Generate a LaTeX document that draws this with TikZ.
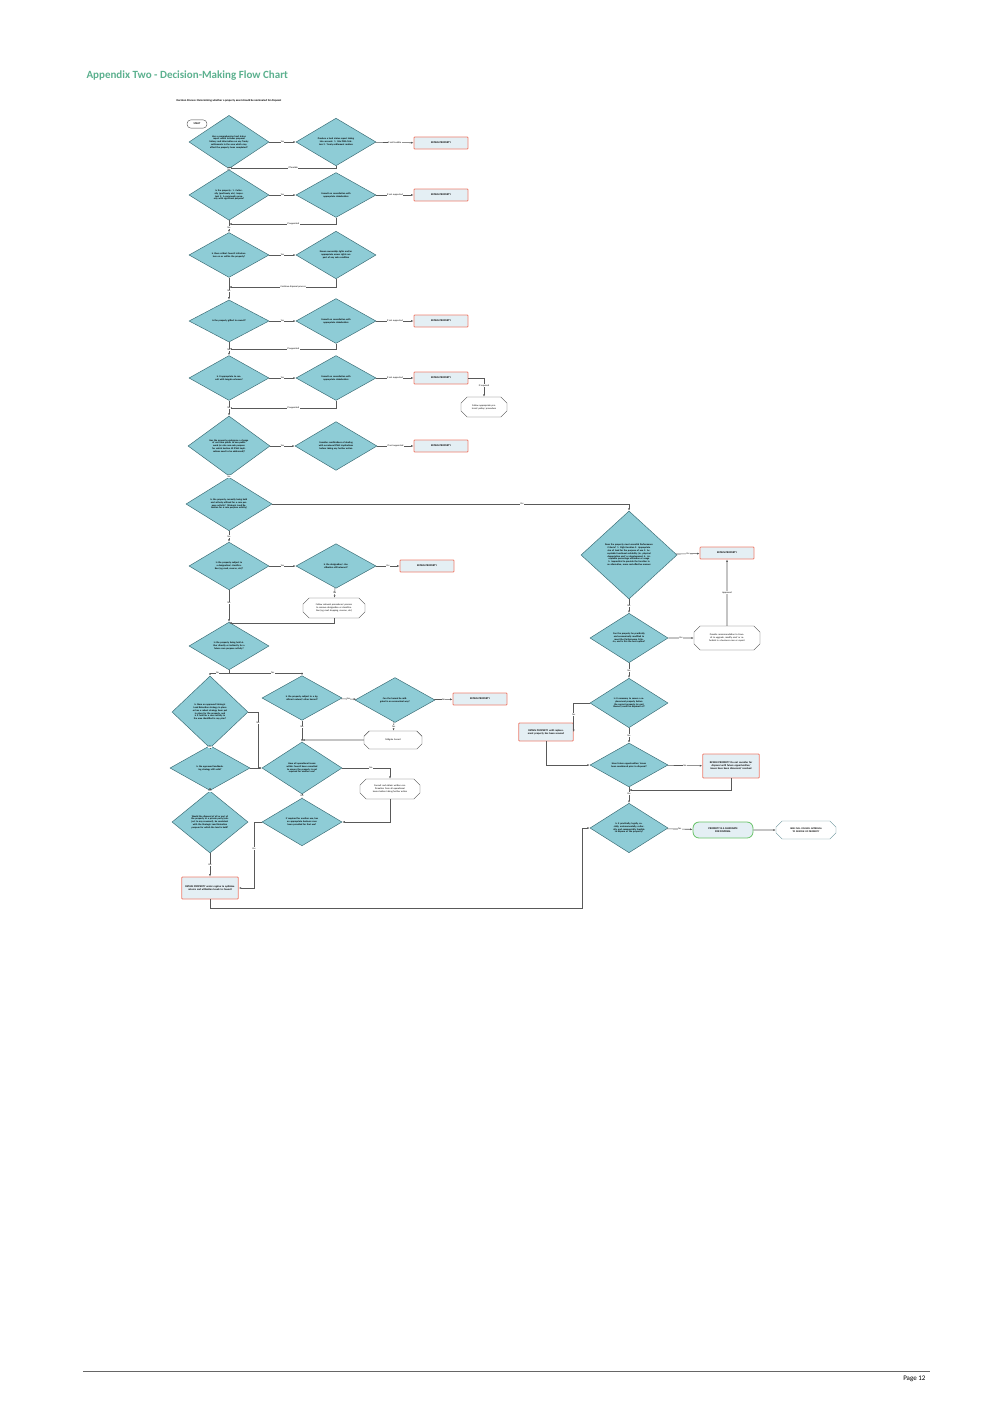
\documentclass[tikz,border=0pt]{standalone}
\usepackage{fontspec}
\setmainfont{Carlito}
\usetikzlibrary{shapes.geometric,shapes.misc,arrows.meta}
\definecolor{teal1}{HTML}{8ECCD6}
\definecolor{teal2}{HTML}{3E6F78}
\definecolor{redb}{HTML}{EE7F6E}
\definecolor{boxf}{HTML}{E4EFF4}
\definecolor{titleg}{HTML}{5BB08E}
\tikzset{
  dec/.style 2 args={diamond, draw=teal2, fill=teal1, line width=.5pt, inner sep=0pt,
    minimum width=#1pt, minimum height=#2pt, text width=.5*#1pt, align=center,
    font=\fontsize{2.4}{2.8}\selectfont\bfseries},
  retain/.style={rectangle, draw=redb, fill=boxf, line width=.8pt, rounded corners=.8pt,
    minimum width=54pt, minimum height=12pt, align=center, font=\fontsize{2.6}{3}\selectfont\bfseries},
  hexa/.style={chamfered rectangle, chamfered rectangle xsep=3pt, draw=black!70, fill=white,
    line width=.4pt, minimum width=60pt, minimum height=18pt, align=center, inner sep=1pt,
    font=\fontsize{2.4}{2.8}\selectfont},
  flow/.style={draw=black!65, line width=.6pt, -{Latex[length=2.5pt,width=2pt]}},
  lbl/.style={fill=white, inner sep=.4pt, font=\fontsize{2.4}{2.8}\selectfont},
}
\begin{document}
\begin{tikzpicture}[x=1pt,y=-1pt]
\useasboundingbox (0,0) rectangle (1004,1418);
% header and footer
\node[anchor=west, text=titleg, font=\fontsize{11}{13}\selectfont\bfseries] (title) at (83,76) {Appendix Two - Decision-Making Flow Chart};
\node[anchor=west, font=\fontsize{2.8}{3}\selectfont\bfseries] (sub) at (173,101) {Decision Process: Determining whether a property asset should be nominated for disposal};
\draw[black!60, line width=.5pt] (83,1371) -- (930,1371);
\node[anchor=east, font=\fontsize{7}{8}\selectfont] (page) at (929,1379) {Page 12};
% left column
\node[draw=black!70, rounded corners=4pt, fill=white, minimum width=20pt, minimum height=8pt, font=\fontsize{2.6}{3}\selectfont\bfseries] (start) at (197,124) {START};
\node[dec={80}{50}] (d1) at (229,142) {Has a comprehensive land status report which includes proposal history and information on any Treaty settlements in the area which may affect the property been completed?};
\node[dec={80}{44}] (d2) at (336,142) {Produce a land status report taking into account: 1. Site PMA Matters 2. Treaty settlement matters};
\node[retain] (r1) at (441,143) {RETAIN PROPERTY};
\node[dec={80}{44}] (d3) at (229,195) {Is the property: 1. Culturally (pref.treaty etc.) important 2. A community property with significant purpose?};
\node[dec={80}{40}] (d4) at (336,195) {Consult on consultation with appropriate stakeholders};
\node[retain] (r2) at (441,195) {RETAIN PROPERTY};
\node[dec={80}{38}] (d5) at (229,255) {Is there critical Council infrastructure on or within the property?};
\node[dec={80}{40}] (d6) at (336,255) {Ensure ownership rights and/or appropriate access rights are part of any sale condition};
\node[dec={80}{38}] (d7) at (229,321) {Is the property gifted to council?};
\node[dec={80}{38}] (d8) at (336,321) {Consult on consultation with appropriate stakeholders};
\node[retain] (r3) at (441,321) {RETAIN PROPERTY};
\node[dec={80}{38}] (d9) at (229,378) {Is it appropriate to consult with tangata whenua?};
\node[dec={80}{38}] (d10) at (336,378) {Consult on consultation with appropriate stakeholders};
\node[retain] (r4) at (441,378) {RETAIN PROPERTY};
\node[hexa, minimum width=46pt, minimum height=20pt, text width=30pt] (h1) at (484,407) {Follow appropriate protocol/ policy/ procedure};
\node[dec={82}{60}] (d11) at (229,446) {Has the property undergone a change of use from public to non-public work (or else non-sale purpose for which Section 40 PWA implications need to be addressed)?};
\node[dec={82}{36}] (d12) at (336,446) {Consider ramifications of dealing with occasional PWA implications before taking any further action};
\node[retain] (r5) at (441,446) {RETAIN PROPERTY};
\node[dec={86}{46}] (d13) at (229,504) {Is the property currently being held and actively utilised for a core purpose activity? (Strategic Land Retention for a core purpose activity)};
\node[dec={80}{36}] (d14) at (229,566) {Is the property subject to a designation/ classification (eg road, reserve, etc)?};
\node[dec={80}{38}] (d15) at (336,566) {Is the designation/ classification still relevant?};
\node[retain] (r6) at (427,566) {RETAIN PROPERTY};
\node[hexa, minimum width=62pt, minimum height=20pt, text width=46pt] (h2) at (334,608) {Follow relevant procedures/ process to remove designation or classification (eg road stopping, reserve, etc)};
\node[dec={80}{36}] (d16) at (229,646) {Is the property being held either directly or indirectly for a future core purpose activity?};
\node[dec={76}{72}] (d17) at (210,712) {Is there an approved Strategic Land Retention strategy in place or has a robust strategy been put in place for the property, and is it held for a core activity in the area identified in any plan?};
\node[dec={80}{36}] (d18) at (302,698) {Is the property subject to a significant natural/ other hazard?};
\node[dec={80}{36}] (d19) at (395,700) {Can the hazard be mitigated in an economical way?};
\node[retain] (r7) at (480,699) {RETAIN PROPERTY};
\node[hexa, minimum width=58pt, minimum height=18pt, text width=40pt] (h3) at (393,740) {Mitigate hazard};
\node[dec={80}{36}] (d20) at (210,768) {Is the approved landbanking strategy still valid?};
\node[dec={80}{52}] (d21) at (302,768) {Have all operational teams within Council been consulted to ensure the property is not required for another use?};
\node[hexa, minimum width=60pt, minimum height=20pt, text width=44pt] (h4) at (390,789) {Consult and obtain written confirmation from all operational teams before taking further action};
\node[dec={76}{62}] (d22) at (210,822) {Would the disposal of all or part of the property to a private party (subject to any covenant), be consistent with the Strategic Land Retention purpose for which the land is held?};
\node[dec={80}{46}] (d23) at (302,822) {If required for another use, has an appropriate business case been provided for that use?};
\node[retain, minimum height=22pt, text width=50pt] (r8) at (210,888) {RETAIN PROPERTY under regime to optimise returns and utilisation levels to Council};
% right column
\node[dec={96}{88}] (d24) at (629,555) {Does the property meet essential Performance Criteria? 1. Right location 2. Appropriate size of land for the purpose of use 3. Acceptable functional suitability (ie. physical depreciation and/ or obsolescence) 4. Acceptable percentage utilisation or usage 5. Impractical to provide the function in an alternative, more cost-effective manner};
\node[retain] (r9) at (727,553) {RETAIN PROPERTY};
\node[hexa, minimum width=66pt, minimum height=24pt, text width=50pt] (h5) at (727,638) {Provide recommendation to Council to upgrade, modify and/ or refurbish in a business case or report};
\node[dec={78}{42}] (d25) at (629,638) {Can the property be practically and economically modified to meet the Performance Criteria, and is this the best option?};
\node[dec={78}{42}] (d26) at (629,703) {Is it necessary to secure a replacement property before the current property (or part thereof) could be disposed of?};
\node[retain, minimum height=18pt, text width=48pt] (r10) at (546,732) {RETAIN PROPERTY until replacement property has been secured};
\node[dec={78}{42}] (d27) at (629,765) {Have future opportunities/ issues been considered prior to disposal?};
\node[retain, minimum height=24pt, text width=50pt] (r11) at (731,766) {RETAIN PROPERTY Do not consider for disposal until future opportunities/ issues have been discussed/ resolved};
\node[dec={78}{42}] (d28) at (629,828) {Is it practically, legally, socially, environmentally, culturally, and commercially feasible to dispose of the property?};
\node[draw=green!60!black!60, fill=boxf, line width=.8pt, rounded corners=6pt, minimum width=60pt, minimum height=16pt, align=center, font=\fontsize{2.6}{3}\selectfont\bfseries] (cand) at (723,830) {PROPERTY IS A CANDIDATE\\FOR DISPOSAL};
\node[hexa, draw=teal1!70!black, minimum width=60pt, minimum height=18pt, text width=44pt] (h6) at (806,830) {\bfseries SEEK FULL COUNCIL APPROVAL TO DISPOSE OF PROPERTY};
% junction points on the main line
\coordinate (j1) at (229,168);
\coordinate (j2) at (229,224);
\coordinate (j3) at (229,287);
\coordinate (j4) at (229,349);
\coordinate (j5) at (229,408);
\coordinate (j6) at (229,623);
\coordinate (j7) at (229,673);
\coordinate (j8) at (302,740);
\coordinate (j9) at (629,790);
% connectors
\draw[flow] (d1) -- node[lbl] {Yes} (d2);
\draw[flow] (d2) -- node[lbl] {If not feasible} (r1);
\draw[flow] (d2.south) |- node[lbl, pos=.7] {If feasible} (j1);
\draw[flow] (d1) -- node[lbl, pos=.6] {No} (d3);
\draw[flow] (d3) -- node[lbl] {Yes} (d4);
\draw[flow] (d4) -- node[lbl] {If not supported} (r2);
\draw[flow] (d4.south) |- node[lbl, pos=.7] {If supported} (j2);
\draw[flow] (d3) -- node[lbl, pos=.6] {No} (d5);
\draw[flow] (d5) -- node[lbl] {Yes} (d6);
\draw[flow] (d6.south) |- node[lbl, pos=.7] {Continue disposal process} (j3);
\draw[flow] (d5) -- node[lbl, pos=.6] {No} (d7);
\draw[flow] (d7) -- node[lbl] {Yes} (d8);
\draw[flow] (d8) -- node[lbl] {If not supported} (r3);
\draw[flow] (d8.south) |- node[lbl, pos=.7] {If supported} (j4);
\draw[flow] (d7) -- node[lbl, pos=.6] {No} (d9);
\draw[flow] (d9) -- node[lbl] {Yes} (d10);
\draw[flow] (d10) -- node[lbl] {If not supported} (r4);
\draw[flow] (r4.east) -| node[lbl, pos=.7] {If required} (h1.north);
\draw[flow] (d10.south) |- node[lbl, pos=.7] {If supported} (j5);
\draw[flow] (d9) -- node[lbl, pos=.5] {No} (d11);
\draw[flow] (d11) -- node[lbl] {Yes} (d12);
\draw[flow] (d12) -- node[lbl] {If not supported} (r5);
\draw[flow] (d11) -- node[lbl] {No} (d13);
\draw[flow] (d13.east) -| node[lbl, pos=.35] {Yes} (d24.north);
\draw[flow] (d13) -- node[lbl] {No} (d14);
\draw[flow] (d14) -- node[lbl] {Yes} (d15);
\draw[flow] (d15) -- node[lbl] {Yes} (r6);
\draw[flow] (d15) -- node[lbl] {No} (h2);
\draw[flow] (h2.south) |- (j6);
\draw[flow] (d14) -- node[lbl, pos=.4] {No} (d16);
\draw[flow] (d16.south) -- (j7) -| node[lbl, pos=.3] {No} (d17.north);
\draw[flow] (j7) -| node[lbl, pos=.3] {Yes} (d18.north);
\draw[flow] (d18) -- node[lbl] {Yes} (d19);
\draw[flow] (d19) -- node[lbl] {No} (r7);
\draw[flow] (d19) -- node[lbl] {Yes} (h3);
\draw[flow] (h3) -- (j8);
\draw[flow] (d18) -- node[lbl, pos=.3] {No} (d21);
\draw[flow] (d17.east) -| node[lbl, pos=.6] {No} (258,768) -- (d21.west);
\draw[flow] (d20) -- (d21);
\draw[flow] (d17) -- node[lbl] {Yes} (d20);
\draw[flow] (d21.east) -| node[lbl, pos=.3] {No} (h4.north);
\draw[flow] (h4.south) |- (d23.east);
\draw[flow] (d21) -- node[lbl] {Yes} (d23);
\draw[flow] (d20) -- node[lbl] {Yes} (d22);
\draw[flow] (d22) -- node[lbl] {Yes} (r8);
\draw[flow] (d23.west) -| node[lbl, pos=.7] {Yes} (254,888) -- (r8.east);
\draw[flow] (r8.south) |- (582,908) |- (d28.west);
\draw[flow] (d24) -- node[lbl] {Yes} (r9);
\draw[flow] (d24) -- node[lbl] {No} (d25);
\draw[flow] (d25) -- node[lbl] {Yes} (h5);
\draw[flow] (h5) -- node[lbl] {Approved} (r9);
\draw[flow] (d25) -- node[lbl] {No} (d26);
\draw[flow] (d26.west) -| node[lbl, pos=.7] {Yes} (r10.east);
\draw[flow] (r10.south) |- (d27.west);
\draw[flow] (d26) -- node[lbl] {No} (d27);
\draw[flow] (d27) -- node[lbl] {No} (r11);
\draw[flow] (r11.south) |- (j9);
\draw[flow] (d27) -- node[lbl, pos=.4] {Yes} (d28);
\draw[flow] (d28) -- node[lbl] {Yes} (cand);
\draw[flow] (cand) -- (h6);
\end{tikzpicture}
\end{document}
